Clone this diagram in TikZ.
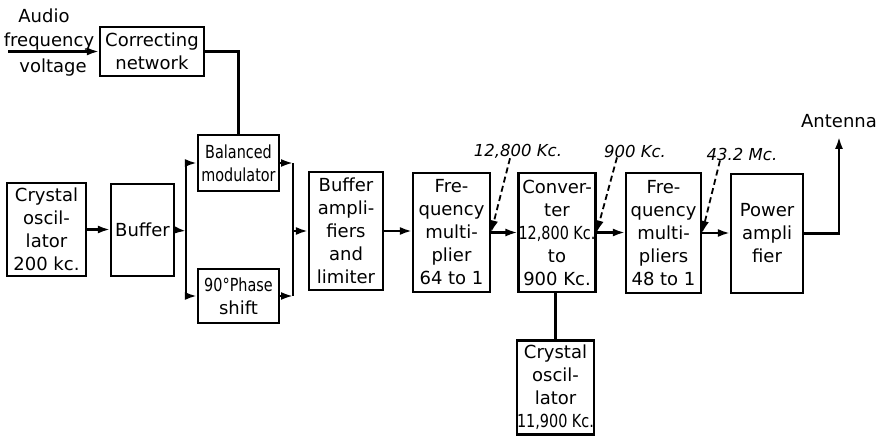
\documentclass[tikz,border=0pt]{standalone}
\usepackage{fontspec}
\usepackage{graphicx}
\setmainfont{DejaVu Sans}
\usetikzlibrary{arrows.meta}
\newcommand{\cond}[1]{\scalebox{0.8}[1]{#1}}
\begin{document}
\begin{tikzpicture}[x=1pt,y=-1pt,
  font=\fontsize{18}{23}\selectfont,
  blk/.style={draw, line width=2.2pt, inner sep=0pt, align=center},
  lbl/.style={inner sep=0pt, align=center},
  ital/.style={inner sep=0pt, font=\fontsize{16.5}{20}\selectfont\itshape},
  arr/.style={line width=2.2pt, -{Latex[length=12pt,width=8pt]}},
  wire/.style={line width=2.2pt},
  darr/.style={line width=1.8pt, dash pattern=on 6pt off 3.5pt, -{Latex[length=12pt,width=8pt]}}]
\useasboundingbox (0,0) rectangle (886,436);
% blocks
\node[blk, minimum width=79pt, minimum height=93pt] (osc1) at (46.5,229.5) {Crystal\\oscil-\\lator\\200 kc.};
\node[blk, minimum width=63pt, minimum height=92pt] (buf) at (142.5,230) {Buffer};
\node[blk, minimum width=81pt, minimum height=56pt] (bm) at (238.5,163) {\cond{Balanced}\\\cond{modulator}};
\node[blk, minimum width=81pt, minimum height=54pt] (ps) at (238.5,296) {\cond{90°Phase}\\shift};
\node[blk, minimum width=104pt, minimum height=49pt] (cn) at (152,51.5) {Correcting\\network};
\node[blk, minimum width=74pt, minimum height=118pt] (ba) at (346,231) {Buffer\\ampli-\\fiers\\and\\limiter};
\node[blk, minimum width=77pt, minimum height=119pt] (fm) at (451.5,232.5) {Fre-\\quency\\multi-\\plier\\64 to 1};
\node[blk, minimum width=76pt, minimum height=119pt] (cv) at (557,232.5) {Conver-\\ter\\\cond{12,800 Kc.}\\to\\900 Kc.};
\node[blk, minimum width=75pt, minimum height=120pt] (fm2) at (663.5,233) {Fre-\\quency\\multi-\\pliers\\48 to 1};
\node[blk, minimum width=72pt, minimum height=119pt] (pa) at (767,233.5) {Power\\ampli\\fier};
\node[blk, minimum width=77pt, minimum height=94pt] (osc2) at (555.5,387.5) {Crystal\\oscil-\\lator\\\cond{11,900 Kc.}};
% labels
\node[lbl] (audio) at (44,16) {Audio};
\node[lbl] (freq) at (49,42) {frequency};
\node[lbl] (volt) at (53,68) {voltage};
\node[lbl] (ant) at (839,121) {Antenna};
\node[ital] (l1) at (518,151) {12,800 Kc.};
\node[ital] (l2) at (635,151) {900 Kc.};
\node[ital] (l3) at (742,154) {43.2 Mc.};
% coordinates
\coordinate (afin) at (8,51.5);
\coordinate (busL) at (186,231);
\coordinate (busR) at (293,231);
% connectors
\draw[arr] (afin) -- (cn.west);
\draw[wire] (cn.east) -| (bm.north);
\draw[arr] (osc1.east) -- (osc1.east -| buf.west);
\draw[arr] (buf.east) -- (busL);
\draw[arr] (busL) |- (bm.west);
\draw[arr] (busL) |- (ps.west);
\draw[arr] (bm.east) -- (bm.east -| busR);
\draw[arr] (ps.east) -- (ps.east -| busR);
\draw[wire] (bm.east -| busR) -- (ps.east -| busR);
\draw[arr] (busR) -- (ba.west);
\draw[arr] (ba.east) -- (ba.east -| fm.west);
\draw[arr] (fm.east) -- (cv.west);
\draw[arr] (cv.east) -- (cv.east -| fm2.west);
\draw[arr] (fm2.east) -- (fm2.east -| pa.west);
\draw[arr] (pa.east) -| ([yshift=-9pt]ant.south);
\draw[wire] (osc2.north) -- (osc2.north |- cv.south);
\draw[darr] ([xshift=-8pt]l1.south) -- (fm.east);
\draw[darr] ([xshift=-18pt]l2.south) -- (cv.east);
\draw[darr] ([xshift=-22pt]l3.south) -- (fm2.east);
\end{tikzpicture}
\end{document}
